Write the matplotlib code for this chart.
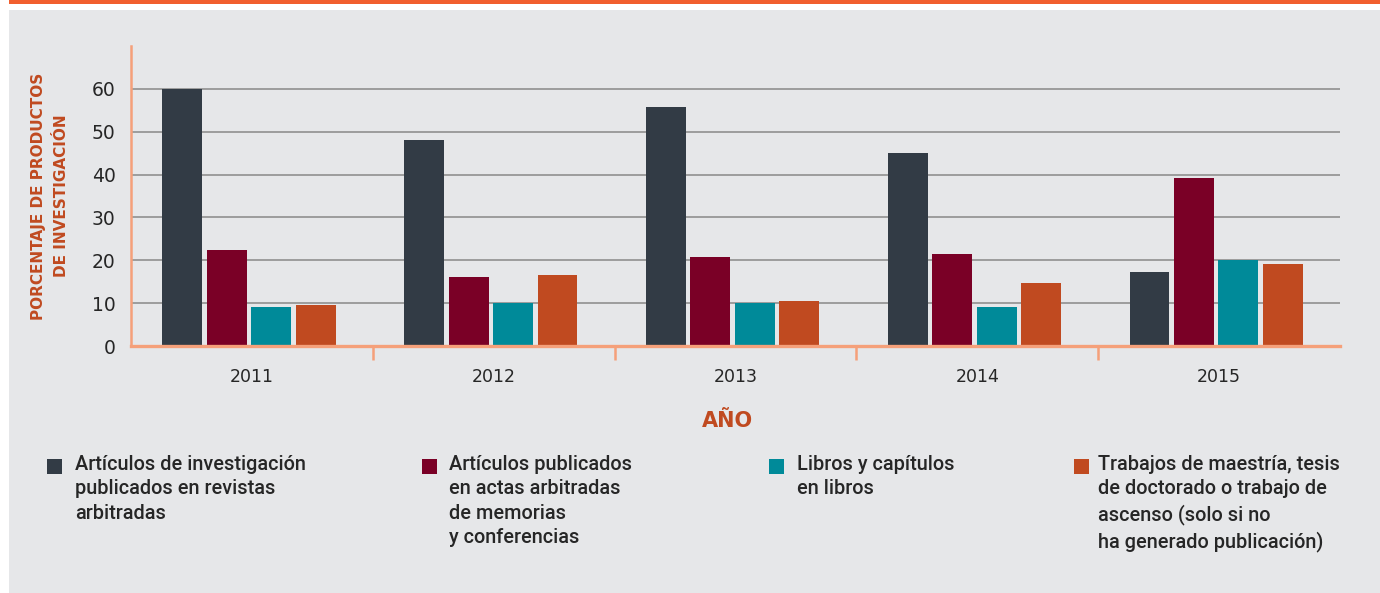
import numpy as np
import matplotlib
matplotlib.use("Agg")
import matplotlib.pyplot as plt
from matplotlib.patches import Rectangle

years = ["2011", "2012", "2013", "2014", "2015"]
revistas = [60.0, 48.0, 55.7, 45.0, 17.2]
actas = [22.3, 16.2, 20.7, 21.4, 39.1]
libros = [9.0, 10.0, 10.0, 9.2, 20.0]
trabajos = [9.5, 16.5, 10.4, 14.6, 19.1]
series_labels = [
    "Artículos de investigación\npublicados en revistas\narbitradas",
    "Artículos publicados\nen actas arbitradas\nde memorias\ny conferencias",
    "Libros y capítulos\nen libros",
    "Trabajos de maestría, tesis\nde doctorado o trabajo de\nascenso (solo si no\nha generado publicación)",
]

COLORS = ["#323b45", "#7a0026", "#008a99", "#c04a20"]
ACCENT = "#c04a20"
SPINE = "#f5a07a"
PANEL = "#e6e7e9"
TEXT = "#262626"

W, H = 1380, 593

fig = plt.figure(figsize=(W / 100, H / 100), dpi=100, facecolor="white")

# grey panel + orange strip on top
fig.patches.append(Rectangle((9 / W, 0), 1, 1 - 10 / H, transform=fig.transFigure,
                             facecolor=PANEL, edgecolor="none", zorder=-2))
fig.patches.append(Rectangle((9 / W, 1 - 4 / H), 1, 4 / H, transform=fig.transFigure,
                             facecolor="#f15f2e", edgecolor="none", zorder=-2))

ax = fig.add_axes([131 / W, 1 - 346 / H, (1340 - 131) / W, 300 / H])
ax.set_facecolor("none")
ax.set_zorder(2)

x = np.arange(len(years)) + 0.5
bw, step = 0.165, 0.184
for k, (vals, c) in enumerate(zip([revistas, actas, libros, trabajos], COLORS)):
    ax.bar(x + (k - 1.5) * step - 0.012, vals, width=bw, color=c, zorder=3)

ax.set_xlim(0, 5)
ax.set_ylim(0, 70)
ax.set_yticks(range(0, 61, 10))
ax.set_xticks(x)
ax.set_xticklabels(years)
ax.set_xticks([1, 2, 3, 4], minor=True)
ax.tick_params(axis="y", length=0, pad=11, labelsize=13.5, labelcolor=TEXT)
ax.tick_params(axis="x", which="major", length=0, pad=16, labelsize=12.5, labelcolor=TEXT)
ax.tick_params(axis="x", which="minor", length=10, width=1.8, color=SPINE)

ax.grid(axis="y", color="#9c9c9c", lw=1.4, zorder=1)
for side in ("top", "right"):
    ax.spines[side].set_visible(False)
ax.spines["left"].set_color(SPINE)
ax.spines["left"].set_linewidth(1.8)
ax.spines["bottom"].set_color(SPINE)
ax.spines["bottom"].set_linewidth(2.4)
ax.spines["bottom"].set_zorder(4)

fig.text(50 / W, 1 - 196 / H, "PORCENTAJE DE PRODUCTOS\nDE INVESTIGACIÓN", rotation=90,
         ha="center", va="center", ma="center", fontsize=11, fontweight="bold",
         color=ACCENT, linespacing=1.7)
fig.text(727 / W, 1 - 421 / H, "AÑO", ha="center", va="center", fontsize=15,
         fontweight="bold", color=ACCENT)

# legend, laid out by hand
sq_x = [47, 422, 769, 1074]
tx_x = [75, 449, 797, 1098]
for sx, tx, c, lab in zip(sq_x, tx_x, COLORS, series_labels):
    fig.patches.append(Rectangle((sx / W, 1 - 474 / H), 15 / W, 15 / H,
                                 transform=fig.transFigure, facecolor=c, edgecolor="none"))
    fig.text(tx / W, 1 - 455 / H, lab, ha="left", va="top", fontsize=14.3,
             family="Roboto", fontweight="medium", color=TEXT, linespacing=1.36)

fig.savefig("out.png", dpi=100, facecolor="white")
